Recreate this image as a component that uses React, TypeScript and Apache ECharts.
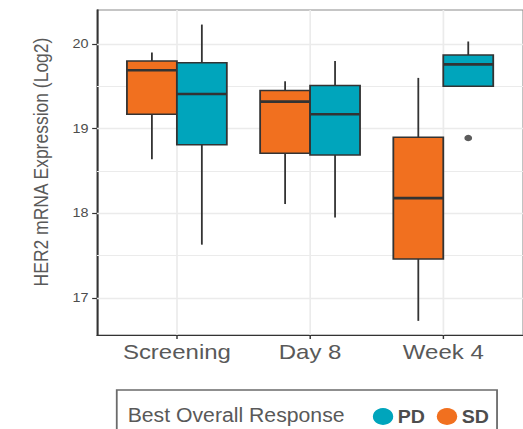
import React, { useEffect, useRef } from "react";
import * as echarts from "echarts";

// Time points on the x axis
const categories = ["Screening", "Day 8", "Week 4"];

// Box statistics per time point: [min, Q1, median, Q3, max]
const sdBoxes = [
  [18.64, 19.17, 19.69, 19.8, 19.9],
  [18.11, 18.71, 19.32, 19.45, 19.56],
  [16.73, 17.46, 18.18, 18.9, 19.6],
];
const pdBoxes = [
  [17.63, 18.81, 19.41, 19.78, 20.23],
  [17.95, 18.69, 19.17, 19.51, 19.8],
  [19.5, 19.5, 19.76, 19.87, 20.03],
];
// Outliers: [time point index, value]
const pdOutliers = [[2, 18.89]];

const yTicks = [17, 18, 19, 20];
const yMinor = [17.5, 18.5, 19.5];
const xTicks = [0, 1, 2];

const legendItems = ["PD", "SD"];

const SD_COLOR = "#F1701F";
const PD_COLOR = "#00A5BC";
const EDGE = "#333333";
const BOX_W = 0.375;
const DODGE = 0.1875;
const SCALE_X = 1.2;
const FONT = "'Liberation Sans', Arial, Helvetica, sans-serif";

function makeRenderItem(offset: number, fill: string) {
  return (params: any, api: any) => {
    const x = api.value(0) + offset;
    const pMin = api.coord([x, api.value(1)]);
    const pQ1 = api.coord([x, api.value(2)]);
    const pMed = api.coord([x, api.value(3)]);
    const pQ3 = api.coord([x, api.value(4)]);
    const pMax = api.coord([x, api.value(5)]);
    const half = api.size([BOX_W, 0])[0] / 2;
    const line = { stroke: EDGE, lineWidth: 1.5 };
    return {
      type: "group",
      children: [
        { type: "line", shape: { x1: pMax[0], y1: pMax[1], x2: pQ3[0], y2: pQ3[1] }, style: line },
        { type: "line", shape: { x1: pQ1[0], y1: pQ1[1], x2: pMin[0], y2: pMin[1] }, style: line },
        {
          type: "rect",
          shape: { x: pQ3[0] - half, y: pQ3[1], width: half * 2, height: pQ1[1] - pQ3[1] },
          style: { fill, stroke: EDGE, lineWidth: 1.5 },
        },
        {
          type: "line",
          shape: { x1: pMed[0] - half, y1: pMed[1], x2: pMed[0] + half, y2: pMed[1] },
          style: { stroke: EDGE, lineWidth: 2.6 },
        },
      ],
    };
  };
}

export default function App() {
  const ref = useRef<HTMLDivElement>(null);

  useEffect(() => {
    if (!ref.current) return;
    const chart = echarts.init(ref.current, null, { renderer: "svg" });

    const gridLines = [
      ...yTicks.map((v) => ({ yAxis: v, lineStyle: { width: 1.3 } })),
      ...yMinor.map((v) => ({ yAxis: v, lineStyle: { width: 1 } })),
      ...xTicks.map((v) => ({ xAxis: v, lineStyle: { width: 1.4 } })),
    ];

    // legend key: filled dot followed by a bold, condensed label
    const keyColors: Record<string, string> = { PD: PD_COLOR, SD: SD_COLOR };
    const keyX = [319.2, 372.5];
    const legendKeys = legendItems.flatMap((name, i) => [
      {
        type: "circle",
        z: 6,
        shape: { cx: keyX[i], cy: 416.5, r: 8.5 },
        style: { fill: keyColors[name] },
      },
      {
        type: "text",
        z: 6,
        x: keyX[i] + 12.2,
        y: 416.5,
        scaleX: 0.86,
        style: {
          text: name,
          font: `bold 19px ${FONT}`,
          fill: "#4d4d4d",
          verticalAlign: "middle",
        },
      },
    ]);

    chart.setOption({
      animation: false,
      backgroundColor: "#ffffff",
      grid: {
        left: 80.8,
        right: -19.5,
        top: 10,
        bottom: 94,
        show: true,
        borderColor: "#8c8c8c",
        borderWidth: 1.2,
        backgroundColor: "#ffffff",
      },
      xAxis: {
        type: "value",
        min: -0.6,
        max: 2.6,
        splitLine: { show: false },
        axisLine: { show: true, onZero: false, lineStyle: { color: EDGE, width: 1.2 } },
        axisTick: { show: true, length: 4, customValues: xTicks, lineStyle: { color: EDGE, width: 1.2 } },
        axisLabel: {
          customValues: xTicks,
          formatter: (v: number) => categories[Math.round(v)] ?? "",
          fontFamily: FONT,
          fontSize: 20,
          color: "#595959",
          margin: 7,
        },
      },
      yAxis: {
        type: "value",
        min: 16.563,
        max: 20.402,
        splitLine: { show: false },
        axisLine: { show: true, onZero: false, lineStyle: { color: EDGE, width: 1.4 } },
        axisTick: { show: true, length: 4, customValues: yTicks, lineStyle: { color: EDGE, width: 1.2 } },
        axisLabel: {
          customValues: yTicks,
          formatter: (v: number) => String(v),
          fontFamily: FONT,
          fontSize: 12,
          color: "#4d4d4d",
          margin: 7,
        },
      },
      graphic: [
        {
          type: "rect",
          z: 5,
          shape: { x: 97.3, y: 390, width: 316.9, height: 60 },
          style: { fill: "#ffffff", stroke: "#6b6b6b", lineWidth: 1.5 },
        },
        {
          type: "text",
          z: 6,
          x: 106.4,
          y: 415,
          scaleX: 0.842,
          style: {
            text: "Best Overall Response",
            font: `21px ${FONT}`,
            fill: "#595959",
            verticalAlign: "middle",
          },
        },
        ...legendKeys,
        {
          type: "text",
          z: 6,
          x: 34,
          y: 162,
          rotation: Math.PI / 2,
          style: {
            text: "HER2 mRNA Expression (Log2)",
            font: `17.5px ${FONT}`,
            fill: "#595959",
            align: "center",
            verticalAlign: "middle",
          },
        },
      ],
      series: [
        {
          name: "SD",
          type: "custom",
          z: 3,
          itemStyle: { color: SD_COLOR },
          renderItem: makeRenderItem(-DODGE, SD_COLOR),
          data: sdBoxes.map((b, i) => [i, ...b]),
          encode: { x: 0, y: [1, 2, 3, 4, 5] },
          markLine: {
            silent: true,
            z: 1,
            symbol: "none",
            label: { show: false },
            emphasis: { disabled: true },
            lineStyle: { color: "#ebebeb", type: "solid" },
            data: gridLines,
          },
        },
        {
          name: "PD",
          type: "custom",
          z: 3,
          itemStyle: { color: PD_COLOR },
          renderItem: makeRenderItem(DODGE, PD_COLOR),
          data: pdBoxes.map((b, i) => [i, ...b]),
          encode: { x: 0, y: [1, 2, 3, 4, 5] },
        },
        {
          name: "PD outliers",
          type: "scatter",
          z: 4,
          symbolSize: 6.5,
          itemStyle: { color: EDGE },
          data: pdOutliers.map(([i, v]) => [i + DODGE, v]),
        },
      ],
    });

    return () => chart.dispose();
  }, []);

  return (
    <div
      style={{
        position: "absolute",
        left: 0,
        top: 0,
        width: 523,
        height: 429,
        overflow: "hidden",
        background: "#ffffff",
      }}
    >
      <div
        ref={ref}
        style={{
          width: 436,
          height: 429,
          transform: `scaleX(${SCALE_X})`,
          transformOrigin: "0 0",
        }}
      />
    </div>
  );
}
